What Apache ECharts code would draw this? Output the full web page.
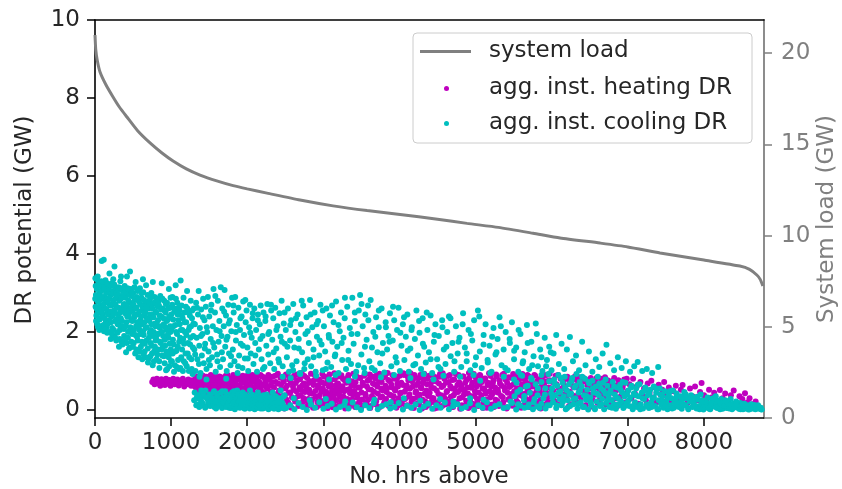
<!DOCTYPE html>
<html><head><meta charset="utf-8">
<script src="https://cdn.jsdelivr.net/npm/echarts@6/dist/echarts.min.js"></script>
<style>html,body{margin:0;padding:0;background:#fff}#c{width:842px;height:489px}</style>
</head><body><div id="c"></div>
<script>
// ---- data ----
const loadHours = [0,10,30,66,140,237,320,420,560,723,880,1026,1200,1380,1600,1815,2000,2260,2694,3128,3575,4008,4500,4888,5300,5756,6110,6636,7000,7424,8000,8473,8600,8696,8740,8775];
const loadGW    = [21.0,20.2,19.6,18.97,18.3,17.6,17.05,16.5,15.75,15.08,14.53,14.09,13.66,13.32,13.0,12.74,12.56,12.33,11.95,11.63,11.37,11.16,10.9,10.67,10.45,10.13,9.87,9.59,9.38,9.05,8.66,8.33,8.15,7.84,7.6,7.24];
const xTicks = [0,1000,2000,3000,4000,5000,6000,7000,8000];
const leftTicks = [0,2,4,6,8,10];
const rightTicks = [0,5,10,15,20];

const heatingDR = [
[752,0.72],[768,0.78],[783,0.66],[798,0.74],[813,0.8],[828,0.68],[843,0.75],[858,0.62],[873,0.79],[888,0.7],[903,0.76],[918,0.64],[933,0.8],[948,0.71],[963,0.67],[978,0.77],[993,0.62],[1010,0.74],[1028,0.8],[1046,0.66],[1064,0.72],[1082,0.78],[1100,0.63],[1118,0.75],[1136,0.69],[1154,0.8],[1172,0.6],[1190,0.73],[1208,0.66],[1226,0.78],[1244,0.7],[1262,0.62],[1280,0.76],[1298,0.68],
[1312,0.6],[1326,0.82],[1340,0.45],[1354,0.7],[1368,0.55],[1382,0.88],[1396,0.38],[1410,0.66],[1424,0.78],[1438,0.5],[1452,0.62],[1466,0.85],[1480,0.42],[1494,0.72],[1508,0.58],[1522,0.9],[1536,0.35],[1550,0.68],[1564,0.8],[1578,0.52],[1592,0.75],[1606,0.44],[1620,0.62],[1634,0.86],[1648,0.55],[1662,0.7],[1676,0.4],[1690,0.78],[1704,0.6],[1718,0.88],[1732,0.48],[1746,0.66],[1760,0.82],[1774,0.36],[1788,0.58],[1802,0.74],[1816,0.9],[1830,0.45],[1844,0.68],[1858,0.55],[1872,0.8],[1886,0.38],[1900,0.62],[1914,0.76],[1928,0.5],[1942,0.88],[1956,0.42],[1970,0.7],[1984,0.58],[1998,0.84],[2012,0.35],[2026,0.65],[2040,0.78],[2054,0.48],[2068,0.9],[2082,0.56],[2096,0.72],[2110,0.4],[2124,0.82],[2138,0.6],[2152,0.3],[2166,0.7],[2180,0.52],[2194,0.86],[2208,0.44],[2222,0.66],[2236,0.78],[2250,0.25],[2264,0.58],[2278,0.9],[2292,0.38],
[2305,0.62],[2318,0.18],[2333,0.85],[2347,0.4],[2360,0.08],[2376,0.72],[2389,0.3],[2403,0.93],[2418,0.5],[2431,0.15],[2446,0.66],[2460,0.36],[2474,0.8],[2488,0.04],[2503,0.55],[2516,0.26],[2531,0.9],[2545,0.44],[2559,0.12],[2574,0.7],[2588,0.33],[2601,0.6],[2616,0.88],[2630,0.22],[2645,0.48],[2658,0.76],[2673,0.1],[2687,0.58],[2701,0.38],[2716,0.95],[2730,0.2],[2744,0.68],[2758,0.46],[2773,0.06],[2787,0.82],[2801,0.28],[2815,0.52],[2830,0.74],[2844,0.16],[2858,0.42],[2872,0.64],[2887,0.9],
[2901,0.34],[2915,0.08],[2930,0.57],[2944,0.78],[2958,0.24],[2972,0.46],[2987,0.92],[3001,0.14],[3015,0.68],[3030,0.38],[3044,0.84],[3058,0.05],[3072,0.6],[3087,0.3],[3101,0.76],[3115,0.5],[3130,0.18],[3144,0.94],[3158,0.42],[3173,0.65],[3187,0.1],[3201,0.86],[3216,0.35],[3230,0.56],[3244,0.22],[3258,0.8],[3273,0.48],[3287,0.04],[3301,0.7],[3316,0.28],[3330,0.9],[3344,0.54],[3358,0.16],[3373,0.74],[3387,0.4],[3401,0.62],[3416,0.08],[3430,0.88],[3444,0.32],[3459,0.58],[3473,0.2],[3487,0.82],
[3502,0.45],[3516,0.7],[3530,0.12],[3545,0.93],[3559,0.36],[3573,0.6],[3588,0.26],[3602,0.78],[3616,0.05],[3630,0.52],[3645,0.86],[3659,0.3],[3673,0.66],[3688,0.15],[3702,0.9],[3716,0.42],[3731,0.72],[3745,0.08],[3759,0.55],[3774,0.34],[3788,0.84],[3802,0.2],[3817,0.62],[3831,0.46],[3845,0.95],[3860,0.1],[3874,0.74],[3888,0.38],[3903,0.58],[3917,0.24],[3931,0.8],[3946,0.5],[3960,0.06],[3974,0.68],[3988,0.3],[4003,0.88],[4017,0.44],[4031,0.16],[4046,0.64],[4060,0.9],[4074,0.28],[4089,0.54],
[4103,0.12],[4117,0.76],[4132,0.4],[4146,0.94],[4160,0.22],[4175,0.6],[4189,0.05],[4203,0.82],[4218,0.48],[4232,0.32],[4246,0.7],[4261,0.14],[4275,0.9],[4289,0.56],[4304,0.26],[4318,0.78],[4332,0.42],[4347,0.08],[4361,0.66],[4375,0.36],[4390,0.88],[4404,0.18],[4418,0.58],[4433,0.74],[4447,0.3],[4461,0.04],[4476,0.84],[4490,0.5],[4504,0.2],[4519,0.68],[4533,0.92],[4547,0.38],[4562,0.1],[4576,0.62],[4590,0.8],[4605,0.28],[4619,0.46],[4633,0.16],[4648,0.72],[4662,0.9],[4676,0.34],[4691,0.55],
[4705,0.08],[4719,0.78],[4734,0.44],[4748,0.2],[4762,0.64],[4777,0.9],[4791,0.3],[4805,0.52],[4820,0.12],[4834,0.86],[4848,0.4],[4863,0.7],[4877,0.24],[4891,0.58],[4906,0.05],[4920,0.82],[4934,0.36],[4949,0.62],[4963,0.16],[4977,0.92],[4992,0.48],[5006,0.74],[5020,0.28],[5035,0.1],[5049,0.66],[5063,0.88],[5078,0.38],[5092,0.56],[5106,0.18],[5121,0.8],[5135,0.42],[5149,0.06],[5164,0.7],[5178,0.94],[5192,0.32],[5207,0.6],[5221,0.14],[5235,0.76],[5250,0.46],[5264,0.26],[5278,0.86],[5293,0.52],
[5307,0.1],[5321,0.68],[5336,0.36],[5350,0.9],[5364,0.2],[5379,0.58],[5393,0.78],[5408,0.04],[5422,0.44],[5436,0.84],[5451,0.3],[5465,0.62],[5480,0.16],[5494,0.92],[5508,0.48],[5523,0.72],[5537,0.24],[5552,0.06],[5566,0.56],[5581,0.86],[5595,0.38],[5609,0.66],[5624,0.12],[5638,0.8],[5653,0.42],[5667,0.28],[5682,0.9],[5696,0.52],[5711,0.08],[5725,0.7],[5740,0.34],[5754,0.6],[5769,0.18],[5783,0.88],[5798,0.46],[5812,0.74],[5827,0.22],[5841,0.55],[5856,0.04],[5870,0.82],[5885,0.4],[5900,0.64],[5914,0.14],[5929,0.9],[5943,0.32],[5958,0.58],[5972,0.76],[5987,0.2],
[6008,0.72],[6030,0.35],[6052,0.88],[6074,0.15],[6096,0.55],[6118,0.8],[6140,0.28],[6162,0.62],[6184,0.42],[6206,0.85],[6228,0.1],[6250,0.68],[6272,0.38],[6294,0.78],[6316,0.22],[6338,0.58],[6360,0.84],[6382,0.32],[6404,0.5],[6426,0.74],[6448,0.12],[6470,0.64],[6492,0.4],[6514,0.82],[6536,0.26],[6558,0.56],[6580,0.7],[6602,0.18],[6624,0.46],[6646,0.8],[6668,0.34],[6690,0.6],[6712,0.14],[6734,0.76],[6756,0.42],[6778,0.62],[6800,0.25],[6822,0.82],[6844,0.5],[6866,0.1],[6888,0.7],[6910,0.36],[6932,0.58],[6954,0.78],[6976,0.2],[6998,0.48],[7022,0.66],[7046,0.3],[7070,0.8],[7094,0.42],[7118,0.6],[7142,0.16],[7166,0.72],[7190,0.38],[7214,0.55],[7238,0.25],[7262,0.68],[7286,0.45],[7310,0.75],[7334,0.32],[7358,0.58],[7382,0.2],[7406,0.65],[7430,0.4],[7454,0.52],[7478,0.72],
[7510,0.35],[7540,0.58],[7570,0.22],[7600,0.48],[7632,0.62],[7665,0.3],[7698,0.52],[7720,0.64],[7752,0.4],[7785,0.18],[7818,0.55],[7850,0.35],[7884,0.6],[7918,0.25],[7950,0.46],[7970,0.69],[8002,0.38],[8035,0.2],[8068,0.52],[8100,0.32],[8135,0.44],[8168,0.15],[8210,0.51],[8245,0.3],[8280,0.42],[8318,0.22],[8355,0.38],[8392,0.5],[8430,0.18],[8468,0.35],[8505,0.28],[8540,0.43],[8575,0.2],[8600,0.3],[8640,0.15],[8680,0.22]
];

const heatingFill = [
[1318,0.71],[1333,0.52],[1347,0.86],[1363,0.4],[1377,0.63],[1391,0.77],[1405,0.5],[1419,0.88],[1433,0.61],[1447,0.43],[1461,0.74],[1475,0.57],[1489,0.83],[1503,0.47],[1517,0.66],[1531,0.79],[1545,0.39],[1559,0.6],[1573,0.87],[1587,0.64],[1601,0.35],[1615,0.77],[1629,0.53],[1643,0.69],[1657,0.84],[1671,0.46],[1685,0.6],[1699,0.73],[1713,0.37],[1727,0.58],[1741,0.9],[1755,0.51],[1769,0.7],[1783,0.45],[1797,0.64],[1811,0.81],[1825,0.57],[1839,0.39],[1853,0.75],[1867,0.62],[1881,0.88],[1895,0.49],[1909,0.33],[1923,0.69],[1937,0.8],[1951,0.56],[1965,0.44],[1979,0.73],[1993,0.61],[2007,0.89],[2021,0.5],[2035,0.29],[2049,0.68],[2063,0.57],[2077,0.79],[2091,0.43],[2105,0.88],[2119,0.6],[2133,0.36],[2147,0.74],[2161,0.52],[2175,0.9],[2189,0.2],[2203,0.63],[2217,0.84],[2231,0.41],[2245,0.7],[2259,0.55],[2273,0.16],[2287,0.78],
[2311,0.47],[2327,0.71],[2339,0.23],[2352,0.58],[2368,0.88],[2381,0.12],[2395,0.41],[2409,0.67],[2423,0.29],[2437,0.83],[2452,0.54],[2466,0.09],[2481,0.74],[2494,0.37],[2509,0.91],[2523,0.62],[2538,0.19],[2552,0.78],[2566,0.45],[2581,0.06],[2594,0.83],[2609,0.52],[2623,0.27],[2638,0.69],[2652,0.91],[2666,0.35],[2680,0.14],[2694,0.79],[2709,0.51],[2723,0.63],[2737,0.31],[2751,0.87],[2766,0.24],[2780,0.57],[2794,0.11],[2808,0.69],[2823,0.43],[2837,0.93],[2851,0.27],[2865,0.06],[2880,0.76],[2894,0.49],[2908,0.82],[2923,0.21],[2937,0.64],[2951,0.37],[2965,0.13],[2980,0.71],[2994,0.55],[3008,0.86],[3022,0.26],[3037,0.47],[3051,0.72],[3065,0.18],[3080,0.91],[3094,0.41],[3108,0.63],[3123,0.07],[3137,0.33],[3151,0.79],[3165,0.54],[3180,0.25],[3194,0.68],[3208,0.45],[3223,0.13],[3237,0.89],[3251,0.61],[3266,0.34],[3280,0.76],[3294,0.19],[3309,0.52],[3323,0.84],[3337,0.08],[3351,0.43],[3366,0.66],[3380,0.27],[3394,0.93],[3409,0.49],[3423,0.71],[3437,0.15],[3452,0.39],[3466,0.83],[3480,0.58],[3495,0.05],
[3509,0.27],[3523,0.64],[3538,0.88],[3552,0.41],[3566,0.19],[3581,0.75],[3595,0.53],[3609,0.91],[3623,0.1],[3638,0.36],[3652,0.68],[3666,0.47],[3681,0.81],[3695,0.23],[3709,0.6],[3724,0.07],[3738,0.93],[3752,0.33],[3767,0.72],[3781,0.5],[3795,0.14],[3810,0.86],[3824,0.28],[3838,0.56],[3853,0.77],[3867,0.4],[3881,0.09],[3896,0.65],[3910,0.89],[3924,0.35],[3939,0.52],[3953,0.2],[3967,0.81],[3981,0.6],[3996,0.13],[4010,0.42],[4024,0.7],[4039,0.25],[4053,0.94],[4067,0.47],[4082,0.11],[4096,0.63],[4110,0.85],[4125,0.34],[4139,0.55],[4153,0.07],[4168,0.74],[4182,0.29],[4196,0.9],[4211,0.45],[4225,0.64],[4239,0.17],[4254,0.82],[4268,0.39],[4282,0.58],[4297,0.04],[4311,0.69],[4325,0.93],[4340,0.22],[4354,0.5],[4368,0.8],[4383,0.13],[4397,0.44],[4411,0.67],[4426,0.31],[4440,0.88],[4454,0.56],[4469,0.19],[4483,0.73],[4497,0.06],
[4512,0.41],[4526,0.85],[4540,0.27],[4555,0.59],[4569,0.94],[4583,0.35],[4598,0.14],[4612,0.7],[4626,0.49],[4641,0.87],[4655,0.21],[4669,0.61],[4684,0.08],[4698,0.77],[4712,0.38],[4727,0.55],[4741,0.92],[4755,0.17],[4770,0.46],[4784,0.71],[4798,0.03],[4813,0.63],[4827,0.33],[4841,0.86],[4856,0.52],[4870,0.12],[4884,0.77],[4899,0.42],[4913,0.95],[4927,0.25],[4942,0.57],[4956,0.7],[4970,0.09],[4985,0.36],[4999,0.84],[5013,0.6],[5028,0.19],[5042,0.45],[5056,0.9],[5071,0.31],[5085,0.72],[5099,0.05],[5114,0.53],[5128,0.81],[5142,0.27],[5157,0.64],[5171,0.15],[5185,0.48],[5200,0.87],[5214,0.38],[5228,0.7],[5243,0.08],[5257,0.58],[5271,0.91],[5286,0.23],[5300,0.44],
[5314,0.76],[5329,0.14],[5343,0.62],[5357,0.33],[5372,0.93],[5386,0.5],[5400,0.07],[5415,0.7],[5429,0.27],[5443,0.59],[5458,0.83],[5472,0.41],[5486,0.11],[5501,0.66],[5515,0.88],[5529,0.35],[5544,0.55],[5558,0.19],[5573,0.78],[5587,0.45],[5601,0.06],[5616,0.92],[5630,0.32],[5644,0.6],[5659,0.73],[5673,0.16],[5687,0.5],[5702,0.86],[5716,0.25],[5730,0.43],[5745,0.07],[5759,0.68],[5773,0.9],[5788,0.37],[5802,0.58],[5816,0.13],[5831,0.79],[5845,0.46],[5859,0.27],[5874,0.64],[5888,0.87],[5903,0.09],[5917,0.52],[5931,0.74],[5946,0.2],[5960,0.41],[5974,0.93],[5989,0.56],
[6019,0.5],[6041,0.22],[6063,0.66],[6085,0.9],[6107,0.41],[6129,0.13],[6151,0.74],[6173,0.56],[6195,0.3],[6217,0.79],[6239,0.47],[6261,0.15],[6283,0.6],[6305,0.86],[6327,0.36],[6349,0.71],[6371,0.18],[6393,0.52],[6415,0.83],[6437,0.44],[6459,0.26],[6481,0.77],[6503,0.55],[6525,0.09],[6547,0.68],[6569,0.39],[6591,0.82],[6613,0.58],[6635,0.27],[6657,0.71],[6679,0.45],[6701,0.84],[6723,0.31],[6745,0.55],[6767,0.17],[6789,0.74],[6811,0.44],[6833,0.63],[6855,0.3],[6877,0.76],[6899,0.52],[6921,0.14],[6943,0.66],[6965,0.4],[6987,0.8]
];

const coolingDR = [
[5,3.38],[12,2.95],[18,2.42],[25,3.1],[30,2.2],[38,2.78],[44,3.25],[50,2.55],[57,2.05],[63,3.0],[70,2.35],[76,2.88],[82,3.3],[88,3.82],[90,2.62],[95,2.15],[98,3.12],[8,2.65],[35,3.42],[66,2.68],
[104,2.45],[110,3.2],[115,3.85],[118,2.02],[123,2.9],[130,2.6],[137,3.33],[142,2.25],[148,2.75],[155,3.05],[160,1.98],[166,2.5],[172,3.18],[178,2.85],[185,2.3],[190,3.5],[196,2.68],[152,2.12],
[203,2.95],[208,1.82],[214,2.4],[220,3.25],[226,2.1],[232,2.72],[238,3.05],[245,1.9],[250,2.55],[256,3.68],[262,2.28],[268,2.85],[274,3.12],[280,1.78],[286,2.62],[292,2.98],[298,2.2],[240,3.35],
[303,2.45],[309,3.15],[315,1.62],[320,2.8],[327,2.05],[333,3.3],[339,2.35],[345,2.92],[351,1.75],[358,2.6],[364,3.05],[370,2.15],[377,2.7],[383,1.9],[390,3.18],[396,2.48],[342,3.42],
[402,2.88],[408,1.48],[414,2.25],[420,3.42],[426,2.6],[432,1.85],[438,3.05],[444,2.4],[450,2.02],[457,2.75],[463,1.6],[470,3.1],[476,2.3],[482,2.92],[488,1.95],[495,2.55],[460,3.55],
[503,3.0],[509,1.72],[515,2.38],[521,2.82],[528,1.45],[534,3.28],[540,2.15],[546,2.62],[552,1.88],[558,3.05],[565,2.45],[571,1.35],[577,2.78],[583,2.05],[590,3.12],[596,2.3],
[603,1.62],[609,2.88],[615,2.2],[621,1.3],[627,2.55],[634,3.02],[640,1.92],[646,2.42],[652,1.5],[658,2.72],[665,2.1],[671,3.2],[677,1.78],[683,2.35],[690,2.95],[696,1.22],[630,3.35],
[703,2.6],[709,1.85],[715,2.28],[721,2.82],[728,1.38],[734,2.05],[740,3.0],[746,1.65],[752,2.45],[758,1.15],[765,2.72],[771,2.0],[777,1.5],[783,2.9],[790,2.22],[796,1.78],[760,3.28],
[803,2.5],[809,1.3],[815,2.85],[821,1.95],[828,2.3],[834,1.55],[840,2.68],[846,1.08],[852,2.1],[858,2.92],[865,1.72],[871,2.4],[877,3.25],[883,1.4],[890,2.6],[896,1.9],
[903,2.2],[909,2.8],[915,1.2],[921,1.65],[928,2.5],[934,1.02],[940,2.05],[946,2.75],[952,1.45],[958,2.32],[965,1.85],[971,3.1],[977,1.12],[983,2.62],[990,2.0],[996,1.55],
[1003,2.45],[1010,1.25],[1017,2.9],[1024,1.8],[1031,2.15],[1038,0.98],[1045,2.6],[1052,1.5],[1060,3.2],[1067,2.0],[1074,1.1],[1081,2.75],[1088,1.62],[1095,2.3],[1102,1.05],[1110,2.55],[1118,1.85],[1125,3.32],[1133,1.35],[1140,2.42],[1148,2.05],[1155,1.0],[1163,2.88],[1170,1.7],[1178,2.25],[1186,1.2],[1194,2.65],[1202,1.92],[1210,3.05],[1218,1.45],[1226,2.5],[1234,1.0],[1242,2.12],[1250,1.68],[1258,2.8],[1266,1.3],[1274,2.35],[1282,0.92],[1290,1.9],[1298,2.6],
[1305,1.55],[1312,2.2],[1320,1.0],[1328,2.75],[1336,1.85],[1345,1.3],[1353,2.45],[1362,3.05],[1370,1.65],[1378,2.1],[1387,0.95],[1395,2.58],[1404,1.4],[1412,1.95],[1421,2.85],[1430,1.2],[1438,2.3],[1447,1.7],[1456,2.65],[1465,1.05],[1474,2.0],[1483,2.9],[1492,1.5],[1501,2.4],[1510,1.15],[1520,1.82],[1529,2.7],[1538,1.35],[1548,2.15],[1557,3.1],[1567,1.6],[1576,2.5],[1586,0.98],[1595,2.05],[1605,1.42],[1614,2.8],[1624,1.75],[1634,2.28],[1643,1.1],[1653,3.15],[1663,1.9],[1672,2.6],[1682,1.3],[1692,2.15],[1702,3.08],[1711,1.62],[1721,2.42],[1731,1.0],[1741,1.88],[1751,2.7],[1761,1.45],[1771,2.3],[1781,1.15],[1791,2.02],[1801,2.88],[1811,1.55],[1822,2.5],[1832,1.25],[1842,2.9],[1852,1.78],[1863,2.18],[1873,0.95],[1884,2.62],[1894,1.4],[1905,2.05],[1915,1.7],[1926,2.4],[1937,1.08],[1947,2.78],[1958,1.92],[1969,1.32],[1980,2.25],[1991,2.55],[2002,1.6],[2013,1.0],[2025,2.12],[2036,2.7],[2047,1.45],[2059,1.85],[2070,2.35],[2082,1.18],[2093,2.6],[2105,1.72],[2117,2.05],[2129,0.98],[2141,2.45],[2153,1.55],[2165,2.2],[2177,2.68],[2189,1.3],[2201,1.9],[2214,2.5],[2226,1.1],[2238,2.28],[2251,1.65],[2264,2.72],[2277,1.42],[2289,2.0],[2302,1.2],[2315,2.55],[2329,1.8],[2342,2.35],[2355,1.05],[2368,2.62],[2382,1.58],[2396,2.15],[2410,1.3],[2424,2.48],[2438,1.88],[2452,2.8],[2466,1.12],[2480,2.22],[2494,1.7],
[1310,0.45],[1335,0.3],[1360,0.15],[1373,0.85],[1386,0.4],[1399,0.22],[1425,0.35],[1438,0.1],[1451,0.5],[1464,0.78],[1477,0.28],[1490,0.12],[1516,0.38],[1529,0.2],[1555,0.45],[1568,0.08],[1581,0.3],[1607,0.18],[1620,0.42],[1633,0.25],[1659,0.1],[1672,0.48],[1685,0.33],[1698,0.15],[1711,0.48],[1724,0.8],[1737,0.22],[1750,0.38],[1763,0.06],[1789,0.28],[1802,0.45],[1815,0.12],[1828,0.35],[1854,0.2],[1867,0.5],[1880,0.08],[1893,0.3],[1906,0.42],[1919,0.15],[1945,0.25],[1958,0.05],[1971,0.4],[1997,0.18],[2010,0.32],[2023,0.1],[2036,0.5],[2049,0.24],[2062,0.06],[2075,0.38],[2101,0.14],[2114,0.3],[2127,0.05],[2140,0.45],[2153,0.2],[2179,0.1],[2192,0.35],[2205,0.04],[2218,0.25],[2244,0.12],[2257,0.4],[2270,0.05],[2283,0.28],[2309,0.15],[2322,0.08],[2335,0.45],[2348,0.22],[2361,0.04],[2374,0.35],[2400,0.12],[2413,0.3],[2426,0.05],[2439,0.5],[2452,0.2],[2465,0.85],[2478,0.1],[2491,0.38],
[2507,2.05],[2521,1.35],[2535,2.6],[2549,0.98],[2563,1.78],[2577,2.3],[2591,1.15],[2605,2.72],[2619,1.6],[2633,2.0],[2648,1.25],[2662,2.45],[2677,1.82],[2691,0.95],[2706,2.2],[2721,1.48],[2735,2.68],[2750,1.05],[2765,1.95],[2780,2.38],[2795,1.3],[2810,1.72],[2825,2.82],[2840,1.12],[2855,2.12],[2870,1.55],[2885,2.5],[2900,0.98],[2916,1.88],[2931,2.28],[2946,1.4],[2962,2.7],[2977,1.68],[2993,1.02],[3008,2.15],[3024,1.5],[3040,2.6],[3055,1.22],[3071,1.92],[3087,2.42],[3103,1.1],[3119,1.75],[3135,2.25],[3151,1.38],[3167,2.78],[3183,1.62],[3199,0.95],[3216,2.02],[3232,2.5],[3248,1.28],[3265,1.85],[3281,2.35],[3298,1.05],[3314,2.65],[3331,1.52],[3348,2.1],[3364,1.18],[3381,2.88],[3398,1.7],[3415,2.28],[3432,0.98],[3449,1.95],[3466,2.55],[3483,2.95],[3500,1.42],[3517,2.15],[3535,1.08],[3552,2.45],[3569,1.8],[3587,2.68],[3604,1.25],[3622,2.82],[3639,1.6],[3657,2.0],[3675,1.02],[3693,2.38],[3711,1.48],[3729,2.12],[3747,1.2],[3765,2.6],[3783,1.72],[3801,0.96],[3819,2.25],[3838,1.55],[3856,1.9],[3875,2.48],[3893,1.12],[3912,1.78],[3931,2.3],[3950,1.35],[3969,2.05],[3988,2.62],[4007,1.0],[4026,1.65],[4045,2.2],[4065,1.28],[4084,1.88],[4104,2.45],[4123,0.98],[4143,1.58],[4163,2.12],[4183,1.15],[4203,1.82],[4223,2.55],[4243,1.4],[4264,1.98],[4284,1.05],[4305,2.35],[4325,1.62],[4346,1.22],[4367,2.05],[4388,1.48],[4409,2.42],[4430,0.95],[4452,1.75],[4473,2.2],[4495,1.3],[4517,1.9],[4539,1.05],[4561,2.3],[4583,1.55],[4605,1.18],[4628,2.0],[4650,2.4],[4673,1.38],[4696,1.72],[4719,0.98],[4742,2.15],[4765,1.45],[4789,1.85],[4812,1.1],[4836,2.48],[4860,1.6],[4884,1.25],[4908,2.05],[4932,1.02],[4957,1.78],[4981,2.3],[5006,1.35],[5031,2.55],[5056,1.5],[5081,1.08],[5106,1.92],[5132,2.2],[5158,1.28],[5184,1.65],[5210,0.98],[5236,2.1],[5262,1.42],[5289,1.82],[5315,2.38],[5342,1.15],[5369,1.55],[5396,2.0],[5423,1.02],[5451,1.72],[5478,2.25],[5506,1.3],[5534,1.6],[5562,0.98],[5590,1.95],[5618,1.2],[5646,1.48],[5675,2.18],[5704,1.05],[5733,1.75],[5762,1.38],[5791,2.22],[5820,1.12],[5849,1.55],[5879,1.0],[5909,1.85],[5938,1.28],[5968,1.62],[5998,1.02],
[6025,1.45],[6060,1.92],[6095,1.18],[6130,1.7],[6165,1.05],[6200,1.55],[6240,1.87],[6280,1.25],[6320,1.4],[6360,1.02],[6400,1.75],[6445,1.15],[6490,1.5],[6535,0.98],[6580,1.3],[6625,1.1],[6670,1.45],[6720,1.67],[6770,1.2],[6820,1.02],[6870,1.35],[6920,1.08],[6975,1.25],[7030,0.98],[7085,1.12],[7130,1.23],[7190,1.0],[7250,1.05],[7320,0.95],[7400,1.1],
[2512,0.05],[2566,0.12],[2620,0.02],[2675,0.18],[2728,0.08],[2783,0.0],[2838,0.14],[2892,0.06],[2947,0.2],[3001,0.03],[3057,0.1],[3110,0.16],[3166,0.01],[3220,0.08],[3275,0.13],[3330,0.04],[3385,0.19],[3440,0.07],[3495,0.0],[3550,0.12],[3605,0.05],[3660,0.17],[3716,0.02],[3770,0.1],[3826,0.15],[3880,0.04],[3936,0.08],[3990,0.18],[4046,0.01],[4100,0.11],[4156,0.06],[4211,0.14],[4266,0.0],[4321,0.09],[4376,0.16],[4431,0.03],[4486,0.12],[4541,0.06],[4596,0.19],[4651,0.02],[4706,0.1],[4762,0.15],[4817,0.04],[4872,0.08],[4927,0.17],[4982,0.0],[5037,0.12],[5092,0.06],[5148,0.2],[5203,0.03],[5258,0.1],[5313,0.15],[5368,0.05],[5424,0.08],[5479,0.18],[5534,0.01],[5589,0.11],[5644,0.06],[5699,0.14],[5754,0.02],[5810,0.09],[5865,0.16],[5920,0.04],[5975,0.12],
[2571,0.82],[2612,0.3],[2697,0.92],[2822,0.25],[2906,0.88],[3033,0.28],[3075,0.78],[3160,0.9],[3288,0.22],[3330,0.75],[3415,0.86],[3543,0.95],[3671,0.26],[3757,0.84],[3886,0.2],[3929,0.9],[4058,0.3],[4144,0.82],[4274,0.24],[4317,0.92],[4448,0.78],[4535,0.28],[4578,0.88],[4709,0.22],[4797,0.85],[4929,0.3],[4973,0.9],[5061,0.75],[5105,0.26],[5194,0.95],[5371,0.85],[5461,0.22],[5505,0.78],[5550,0.46],[5595,0.9],[5640,0.36],[5685,0.62],[5730,0.82],[5775,0.28],[5820,0.55],[5866,0.72],[5911,0.4],[5957,0.92],
[6005,0.55],[6018,0.2],[6032,0.78],[6046,0.38],[6060,0.05],[6074,0.62],[6088,0.9],[6102,0.28],[6116,0.48],[6130,0.12],[6144,0.7],[6158,0.35],[6172,0.85],[6186,0.02],[6200,0.5],[6214,0.25],[6228,0.66],[6242,0.1],
[6256,0.42],[6270,0.82],[6284,0.15],[6298,0.58],[6312,0.3],[6326,0.92],[6340,0.04],[6354,0.45],[6368,0.72],[6382,0.2],[6396,0.6],[6410,0.08],[6424,0.38],[6438,0.8],[6452,0.26],[6466,0.52],[6480,0.01],[6494,0.68],
[6508,0.32],[6522,0.12],[6536,0.75],[6550,0.45],[6564,0.05],[6578,0.6],[6592,0.22],[6606,0.85],[6620,0.38],[6634,0.1],[6648,0.55],[6662,0.28],[6676,0.7],[6690,0.02],[6704,0.42],[6718,0.18],[6732,0.62],[6746,0.35],
[6760,0.08],[6774,0.5],[6788,0.25],[6802,0.72],[6816,0.15],[6830,0.4],[6844,0.03],[6858,0.58],[6872,0.3],[6886,0.12],[6900,0.65],[6914,0.22],[6928,0.45],[6942,0.05],[6956,0.35],[6970,0.7],[6984,0.18],
[7005,0.5],[7020,0.1],[7035,0.32],[7050,0.62],[7065,0.02],[7080,0.42],[7095,0.2],[7110,0.55],[7125,0.08],[7140,0.35],[7155,0.66],[7170,0.15],[7185,0.45],[7200,0.04],[7215,0.28],[7230,0.58],[7245,0.12],
[7262,0.38],[7278,0.05],[7294,0.52],[7310,0.2],[7326,0.3],[7342,0.6],[7358,0.1],[7374,0.44],[7390,0.02],[7406,0.25],[7422,0.55],[7438,0.14],[7454,0.35],[7470,0.06],[7486,0.48],
[7505,0.22],[7522,0.02],[7539,0.4],[7556,0.12],[7573,0.3],[7590,0.5],[7607,0.06],[7624,0.25],[7641,0.42],[7658,0.1],[7675,0.18],[7692,0.35],[7709,0.03],[7726,0.28],[7743,0.46],
[7760,0.12],[7778,0.3],[7796,0.02],[7814,0.22],[7832,0.38],[7850,0.08],[7868,0.16],[7886,0.32],[7904,0.04],[7922,0.26],[7940,0.1],[7958,0.4],[7976,0.18],[7994,0.01],
[8012,0.24],[8030,0.08],[8048,0.32],[8066,0.15],[8084,0.02],[8102,0.28],[8120,0.1],[8138,0.2],[8156,0.35],[8174,0.05],[8192,0.18],[8210,0.12],[8228,0.28],[8246,0.03],
[8262,0.15],[8280,0.25],[8298,0.05],[8316,0.2],[8334,0.1],[8352,0.28],[8370,0.02],[8388,0.16],[8406,0.08],[8424,0.22],[8442,0.12],[8460,0.03],[8478,0.18],
[8496,0.1],[8514,0.02],[8532,0.16],[8550,0.06],[8568,0.12],[8586,0.01],[8604,0.09],[8622,0.15],[8640,0.04],[8658,0.1],[8676,0.02],[8694,0.07],[8712,0.12],[8730,0.03],[8748,0.06],[8760,0.01]
];

const coolingFill = [
[3,2.85],[9,3.18],[14,2.28],[21,2.6],[27,3.35],[33,2.48],[41,2.12],[47,2.93],[53,3.2],[60,2.32],[68,2.82],[73,2.15],[79,3.05],[85,2.5],[92,2.9],[97,2.4],[102,3.28],[107,2.7],[112,2.18],[120,3.1],[126,2.35],[133,2.8],[139,2.05],[145,3.0],[151,2.58],[157,3.25],[163,2.2],[169,2.78],[175,2.45],[181,3.08],[187,2.0],[193,2.88],[199,2.52],[205,3.18],[211,2.25],[217,2.68],[223,1.95],[229,2.98],[235,2.42],[242,2.8],[248,2.05],[253,3.22],[259,2.5],[265,1.85],[271,2.7],[277,3.0],[283,2.32],[289,2.9],[295,1.98],[301,3.08],[306,2.2],[312,2.62],[318,2.92],[324,1.82],[330,2.5],[336,2.15],[341,2.85],[347,3.12],[354,2.28],[361,1.68],[367,2.55],[373,2.9],[380,2.08],[386,2.72],[393,1.8],[399,3.0],
[405,2.15],[411,2.68],[417,1.72],[423,2.4],[429,3.12],[435,2.0],[441,2.8],[447,1.58],[453,2.5],[459,2.95],[466,2.12],[473,2.62],[479,1.75],[485,3.0],[491,2.28],[498,1.62],[506,2.7],[512,2.05],[518,3.15],[524,2.45],[531,1.92],[537,2.6],[543,1.55],[549,2.9],[555,2.25],[561,1.78],[568,2.85],[574,2.12],[580,2.52],[587,1.5],[593,2.72],[599,1.95],[606,2.4],[612,3.0],[618,1.75],[624,2.65],[631,2.02],[637,1.42],[643,2.82],[649,2.25],[655,1.7],[661,2.5],[668,1.35],[674,2.6],[680,2.12],[687,2.78],[693,1.58],[699,2.35],
[706,1.32],[712,2.72],[718,1.98],[724,2.45],[731,1.72],[737,2.9],[743,2.2],[749,1.45],[755,2.6],[762,1.9],[768,2.38],[774,1.25],[780,2.75],[787,1.62],[793,2.15],[799,2.52],[806,1.82],[812,2.2],[818,1.42],[824,2.65],[831,1.95],[837,2.8],[843,1.25],[849,2.42],[855,1.75],[862,2.15],[868,2.58],[874,1.55],[880,2.0],[886,2.85],[893,1.62],[899,2.35],[906,1.38],[912,2.55],[918,1.8],[924,2.12],[931,2.72],[937,1.5],[943,2.28],[949,1.05],[955,1.92],[962,2.6],[968,1.35],[974,2.4],[980,1.7],[987,2.15],[993,2.88],[999,1.25],
[1006,2.05],[1013,2.7],[1020,1.45],[1027,2.32],[1035,1.68],[1042,2.52],[1049,1.15],[1056,2.18],[1063,2.85],[1070,1.52],[1078,1.95],[1085,2.45],[1092,1.28],[1099,2.62],[1106,1.75],[1114,2.2],[1121,1.08],[1129,2.05],[1137,2.68],[1144,1.55],[1152,2.35],[1159,1.82],[1167,1.25],[1174,2.5],[1182,2.0],[1190,1.45],[1198,2.25],[1206,1.12],[1214,2.6],[1222,1.72],[1230,2.05],[1238,1.35],[1246,2.42],[1254,1.85],[1262,2.15],[1270,1.05],[1278,2.55],[1286,1.6],[1294,2.22],
[1316,1.42],[1341,2.62],[1366,1.18],[1392,1.9],[1417,2.38],[1443,1.58],[1469,2.12],[1497,1.28],[1524,2.55],[1552,1.72],[1581,2.92],[1609,1.25],[1638,2.02],[1667,1.48],[1697,2.52],[1727,1.8],[1757,2.22],[1788,1.38],[1818,2.68],[1849,2.0],[1880,1.12],[1911,2.35],[1943,1.65],[1975,2.82],[2007,1.32],[2040,1.98],[2073,2.48],[2106,1.4],[2139,2.3],[2173,1.82],[2207,1.05],[2242,2.4],[2277,1.95],[2312,2.7],[2347,1.48],[2383,2.05],[2419,1.22],[2455,1.75],[2491,2.5],[2528,1.62],[2565,2.18],[2602,1.02],[2640,2.35],[2678,1.58],[2716,2.8],[2755,1.2],[2794,2.02],[2833,2.45],[2872,1.35],[2912,2.2],[2952,1.78],[2992,2.55],[3033,1.05],[3074,1.85],[3115,2.68],[3157,1.42],[3199,2.18],[3241,1.72],[3284,2.88],[3327,1.28],[3370,1.95],[3414,2.5],[3458,1.15],[3502,2.72],[3547,1.62],[3592,2.3],[3637,1.08],[3683,1.88],[3729,2.55],[3775,1.45],[3822,2.12],[3869,1.75],[3916,2.65],[3964,1.22],[4012,1.98],[4060,2.38],[4109,1.52],[4158,2.05],[4208,1.18],[4258,2.28],[4308,1.7],[4359,2.5],[4410,1.3],[4461,1.92],[4513,1.1],[4565,2.12],[4617,1.62],[4670,2.35],[4723,1.25],[4776,1.75],[4830,2.2],[4884,1.45],[4939,1.95],[4994,1.15],[5049,2.4],[5105,1.68],[5161,1.22],[5218,1.88],[5275,1.48],[5332,2.15],[5390,1.08],[5448,1.82],[5507,1.52],[5566,2.05],[5625,1.25],[5685,1.72],[5745,1.15],[5805,1.95],[5866,1.35],[5927,1.12],[5988,1.48],
[1303,0.25],[1331,0.12],[1344,0.38],[1370,0.08],[1383,0.28],[1396,0.5],[1409,0.18],[1422,0.42],[1448,0.06],[1461,0.32],[1487,0.2],[1500,0.4],[1513,0.1],[1539,0.3],[1552,0.15],[1565,0.48],[1578,0.22],[1591,0.04],[1604,0.36],[1630,0.12],[1643,0.28],[1656,0.45],[1669,0.05],[1682,0.2],[1708,0.3],[1721,0.08],[1734,0.4],[1747,0.16],[1773,0.25],[1786,0.05],[1799,0.34],[1812,0.18],[1825,0.48],[1838,0.02],[1851,0.3],[1864,0.12],[1877,0.4],[1890,0.22],[1903,0.06],[1916,0.32],[1929,0.14],[1942,0.45],[1955,0.26],[1968,0.03],[1981,0.2],[1994,0.36],[2007,0.1],[2020,0.28],[2033,0.04],[2046,0.18],[2059,0.4],[2072,0.12],[2085,0.25],[2098,0.02],[2111,0.2],[2124,0.35],[2137,0.08],[2150,0.15],[2163,0.3],[2176,0.04],[2189,0.22],[2202,0.12],[2215,0.38],[2228,0.06],[2241,0.18],[2254,0.28],[2267,0.1],[2280,0.02],[2293,0.2],[2306,0.32],[2319,0.1],[2332,0.24],[2345,0.04],[2358,0.16],[2371,0.3],[2384,0.08],[2397,0.2],[2410,0.02],[2423,0.14],[2436,0.28],[2449,0.06],[2462,0.18],[2475,0.34],[2488,0.04],
[5512,0.35],[5538,0.7],[5561,0.15],[5587,0.52],[5612,0.88],[5636,0.25],[5662,0.6],[5688,0.08],[5713,0.44],[5739,0.78],[5764,0.2],[5790,0.66],[5815,0.38],[5841,0.05],[5866,0.9],[5892,0.3],[5917,0.56],[5943,0.12],[5968,0.74],[5994,0.42],
[6011,0.32],[6039,0.68],[6067,0.12],[6093,0.45],[6121,0.82],[6149,0.22],[6177,0.58],[6205,0.05],[6233,0.4],[6261,0.74],[6289,0.28],[6317,0.62],[6345,0.16],[6373,0.5],[6401,0.85],[6429,0.08],[6457,0.36],[6485,0.72],[6513,0.2],[6541,0.55],[6569,0.02],[6597,0.42],[6625,0.68],[6653,0.14],[6681,0.5],[6709,0.78],[6737,0.25],[6765,0.45],[6793,0.06],[6821,0.6],[6849,0.32],[6877,0.15],[6905,0.52],[6933,0.72],[6961,0.1],[6989,0.4],
[7013,0.25],[7043,0.58],[7073,0.1],[7103,0.38],[7133,0.65],[7163,0.02],[7193,0.3],[7223,0.5],[7253,0.14],[7283,0.42],[7313,0.08],[7343,0.32],[7373,0.55],[7403,0.02],[7433,0.4],[7463,0.22],[7493,0.12],[7523,0.32],[7553,0.48],[7583,0.04],[7613,0.2],[7643,0.35],[7673,0.08],[7703,0.28],[7733,0.15],[7763,0.4],[7793,0.05],[7823,0.3],[7853,0.2],[7883,0.1],[7913,0.34],[7943,0.02],[7973,0.25],[8003,0.12],[8033,0.2],[8063,0.04],[8093,0.16],[8123,0.3],[8153,0.08],[8183,0.24],[8213,0.02],[8243,0.18],[8273,0.1],[8303,0.22],[8333,0.04],[8363,0.14],[8393,0.06],[8423,0.18],[8453,0.08],[8483,0.02],[8513,0.12],[8543,0.04],[8573,0.09],[8603,0.02],[8633,0.07],[8663,0.13],[8693,0.04],[8723,0.08],[8753,0.02]
];

// ---- chart ----
const FONT = 'DejaVu Sans';
const FS = 23;
const TXT = '#262626';
const GRAY = '#808080';
const loadData = loadHours.map((h, i) => [h, loadGW[i]]);
const heatingAll = heatingDR.concat(heatingFill);
const coolingAll = coolingDR.concat(coolingFill);

const chart = echarts.init(document.getElementById('c'), null, {renderer: 'canvas'});
chart.setOption({
  animation: false,
  backgroundColor: '#fff',
  grid: [
    {left: 95, right: 78, top: 20, bottom: 71},
    {left: 95, right: 78, top: 20, bottom: 79}
  ],
  xAxis: [
    {type: 'value', gridIndex: 0, min: 0, max: 8790, interval: 1000, position: 'bottom',
     axisLine: {show: true, onZero: false, lineStyle: {color: '#000', width: 1.6}},
     axisTick: {show: true, length: 8, lineStyle: {color: '#000', width: 1.5}},
     axisLabel: {show: true, margin: 14, color: TXT, fontSize: FS, fontFamily: FONT,
       showMaxLabel: false, formatter: v => xTicks.indexOf(v) >= 0 ? String(v) : ''},
     splitLine: {show: false}},
    {type: 'value', gridIndex: 0, min: 0, max: 8790, position: 'top',
     axisLine: {show: true, onZero: false, lineStyle: {color: '#000', width: 1.6}},
     axisTick: {show: false}, axisLabel: {show: false}, splitLine: {show: false}},
    {type: 'value', gridIndex: 1, min: 0, max: 1, show: false}
  ],
  yAxis: [
    {type: 'value', gridIndex: 0, min: -0.205, max: 10, position: 'left',
     axisLine: {show: true, onZero: false, lineStyle: {color: '#000', width: 1.6}},
     axisTick: {show: false}, axisLabel: {show: false}, splitLine: {show: false}},
    {type: 'value', gridIndex: 0, min: 0, max: 21.82, interval: 5, position: 'right',
     axisLine: {show: true, onZero: false, lineStyle: {color: GRAY, width: 1.8}},
     axisTick: {show: true, length: 8, lineStyle: {color: GRAY, width: 1.5}},
     axisLabel: {show: true, margin: 17, color: GRAY, fontSize: FS, fontFamily: FONT,
       showMaxLabel: false, formatter: v => rightTicks.indexOf(v) >= 0 ? String(v) : ''},
     splitLine: {show: false}},
    {type: 'value', gridIndex: 1, min: 0, max: 10, interval: 2, position: 'left',
     axisLine: {show: false},
     axisTick: {show: true, length: 8, lineStyle: {color: '#000', width: 1.5}},
     axisLabel: {show: true, margin: 15, color: TXT, fontSize: FS, fontFamily: FONT,
       formatter: v => leftTicks.indexOf(v) >= 0 ? String(v) : ''},
     splitLine: {show: false}}
  ],
  legend: [
    {data: [{name: 'system load', icon: 'rect'}], left: 420, top: 40, padding: 0, itemWidth: 51, itemHeight: 3,
     selectedMode: false, itemStyle: {color: GRAY},
     textStyle: {fontSize: FS, fontFamily: FONT, color: TXT, padding: [0, 0, 0, 13], lineHeight: 23}},
    {data: [{name: 'agg. inst. heating DR', icon: 'circle'}], left: 444, top: 77, padding: 0, itemWidth: 5, itemHeight: 5,
     selectedMode: false,
     textStyle: {fontSize: FS, fontFamily: FONT, color: TXT, padding: [0, 0, 0, 35], lineHeight: 23}},
    {data: [{name: 'agg. inst. cooling DR', icon: 'circle'}], left: 444, top: 112, padding: 0, itemWidth: 5, itemHeight: 5,
     selectedMode: false,
     textStyle: {fontSize: FS, fontFamily: FONT, color: TXT, padding: [0, 0, 0, 35], lineHeight: 23}}
  ],
  graphic: [
    {type: 'rect', z: 3, shape: {x: 413, y: 33, width: 339, height: 110, r: 4},
     style: {fill: 'rgba(255,255,255,0.85)', stroke: '#cccccc', lineWidth: 1}},
    {type: 'text', x: 25, y: 220, rotation: Math.PI / 2,
     style: {text: 'DR potential (GW)', fontSize: FS, fontFamily: FONT, fill: TXT, align: 'center', verticalAlign: 'middle'}},
    {type: 'text', x: 827, y: 219, rotation: Math.PI / 2,
     style: {text: 'System load (GW)', fontSize: FS, fontFamily: FONT, fill: GRAY, align: 'center', verticalAlign: 'middle'}},
    {type: 'text', x: 429, y: 477,
     style: {text: 'No. hrs above', fontSize: FS, fontFamily: FONT, fill: TXT, align: 'center', verticalAlign: 'middle'}}
  ],
  series: [
    {name: 'agg. inst. heating DR', type: 'scatter', xAxisIndex: 0, yAxisIndex: 0,
     data: heatingAll, symbolSize: 6, itemStyle: {color: '#bf00bf', opacity: 1},
     emphasis: {disabled: true}, z: 2},
    {name: 'agg. inst. cooling DR', type: 'scatter', xAxisIndex: 0, yAxisIndex: 0,
     data: coolingAll, symbolSize: 6, itemStyle: {color: '#00bfbf', opacity: 1},
     emphasis: {disabled: true}, z: 2},
    {name: 'system load', type: 'line', xAxisIndex: 0, yAxisIndex: 1,
     data: loadData, symbol: 'none', showSymbol: false, smooth: 0.2,
     lineStyle: {color: GRAY, width: 3}, itemStyle: {color: GRAY},
     emphasis: {disabled: true}, z: 3}
  ]
});
</script>
</body></html>
